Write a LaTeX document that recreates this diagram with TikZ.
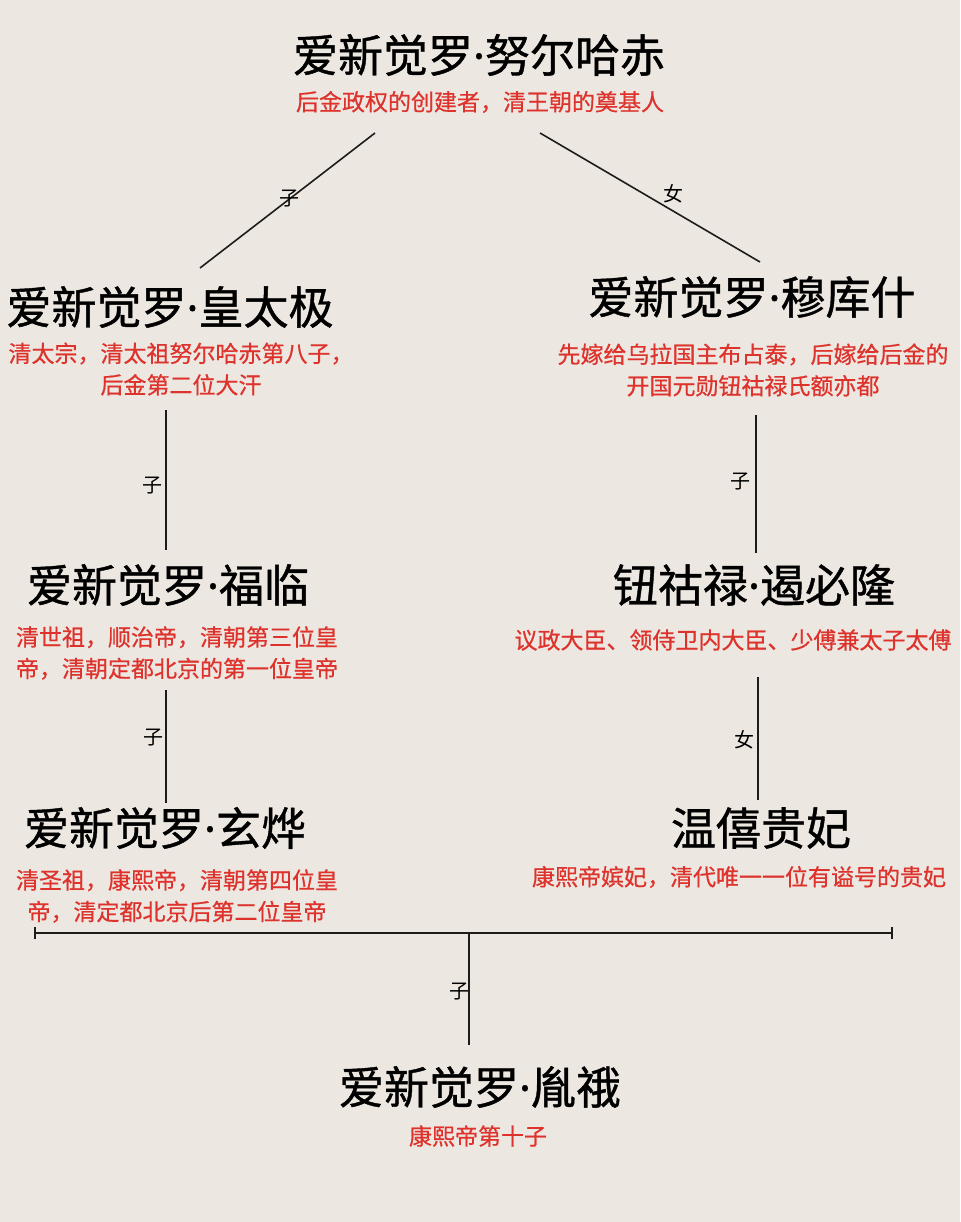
\documentclass[tikz,border=0pt]{standalone}
\usepackage{fontspec}
\newfontfamily\cjkt[FakeBold=0.9]{Noto Sans CJK SC}
\newfontfamily\cjks[FakeBold=0.6]{Noto Sans CJK SC}
\newfontfamily\cjk{Noto Sans CJK SC}
\newfontfamily\latinsans[FakeBold=0.9]{Noto Sans}
\newcommand{\mdot}{{\latinsans ·}}
\definecolor{bgc}{RGB}{237,231,225}
\definecolor{redtxt}{RGB}{222,50,44}
\definecolor{linec}{RGB}{30,28,26}
\tikzset{
  title/.style={inner sep=0pt, font=\cjkt\fontsize{45}{50}\selectfont, text=black},
  sub/.style={inner sep=0pt, align=center, font=\cjks\fontsize{23}{31.5}\selectfont, text=redtxt},
  rel/.style={inner sep=0pt, font=\cjk\fontsize{20}{22}\selectfont, text=black},
  conn/.style={draw=linec, line width=1.6pt}
}
\begin{document}
\begin{tikzpicture}[x=1pt,y=-1pt]
\fill[bgc] (0,0) rectangle (960,1222);
\useasboundingbox (0,0) rectangle (960,1222);

% people
\node[title] (nurhaci) at (479,55) {爱新觉罗\mdot 努尔哈赤};
\node[sub] (nurhacid) at (480,102) {后金政权的创建者，清王朝的奠基人};

\node[title] (hongtaiji) at (170,307) {爱新觉罗\mdot 皇太极};
\node[sub] (hongtaijid) at (181,369) {清太宗，清太祖努尔哈赤第八子，\\后金第二位大汗};

\node[title] (mukushi) at (752,297) {爱新觉罗\mdot 穆库什};
\node[sub] (mukushid) at (753,370) {先嫁给乌拉国主布占泰，后嫁给后金的\\开国元勋钮祜禄氏额亦都};

\node[title] (fulin) at (168,585) {爱新觉罗\mdot 福临};
\node[sub] (fulind) at (177,653) {清世祖，顺治帝，清朝第三位皇\\帝，清朝定都北京的第一位皇帝};

\node[title] (ebilun) at (754,585) {钮祜禄\mdot 遏必隆};
\node[sub] (ebilund) at (733,640) {议政大臣、领侍卫内大臣、少傅兼太子太傅};

\node[title] (xuanye) at (165,828) {爱新觉罗\mdot 玄烨};
\node[sub] (xuanyed) at (177,896) {清圣祖，康熙帝，清朝第四位皇\\帝，清定都北京后第二位皇帝};

\node[title] (wenxi) at (761,828) {温僖贵妃};
\node[sub] (wenxid) at (739,877) {康熙帝嫔妃，清代唯一一位有谥号的贵妃};

\node[title] (yune) at (480,1087) {爱新觉罗\mdot 胤䄉};
\node[sub] (yuned) at (478,1136) {康熙帝第十子};

% connector ends
\coordinate (c1a) at (375,133);
\coordinate (c1b) at (200,268);
\coordinate (c2a) at (540,133);
\coordinate (c2b) at (760,262);
\coordinate (c3a) at (166,410);
\coordinate (c3b) at (166,550);
\coordinate (c4a) at (756,415);
\coordinate (c4b) at (756,553);
\coordinate (c5a) at (166,690);
\coordinate (c5b) at (166,803);
\coordinate (c6a) at (758,677);
\coordinate (c6b) at (758,800);
\coordinate (barL) at (35,933);
\coordinate (barR) at (892,933);
\coordinate (barM) at (469,933);
\coordinate (c7b) at (469,1045);

\draw[conn] (c1a) -- (c1b);
\draw[conn] (c2a) -- (c2b);
\draw[conn] (c3a) -- (c3b);
\draw[conn] (c4a) -- (c4b);
\draw[conn] (c5a) -- (c5b);
\draw[conn] (c6a) -- (c6b);
\draw[conn] (barL) -- (barR);
\draw[conn] ([yshift=-6pt]barL) -- ([yshift=6pt]barL);
\draw[conn] ([yshift=-6pt]barR) -- ([yshift=6pt]barR);
\draw[conn] (barM) -- (c7b);

% relation labels
\node[rel] (l1) at (289,199) {子};
\node[rel] (l2) at (673,194) {女};
\node[rel] (l3) at (152,486) {子};
\node[rel] (l4) at (740,482) {子};
\node[rel] (l5) at (153,738) {子};
\node[rel] (l6) at (744,740) {女};
\node[rel] (l7) at (459,992) {子};
\end{tikzpicture}
\end{document}
